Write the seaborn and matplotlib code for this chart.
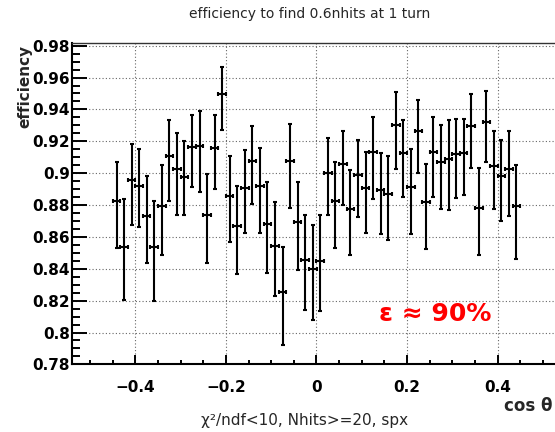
import numpy as np
import pandas as pd
import matplotlib
matplotlib.use("Agg")
import matplotlib.pyplot as plt
from matplotlib.ticker import FixedLocator, MultipleLocator
import seaborn as sns

# bin centres in cos(theta) (bin width 1/60)
cos_theta = [
    -0.4417, -0.4250, -0.4083, -0.3917, -0.3750, -0.3583, -0.3417, -0.3250, -0.3083,
    -0.2917, -0.2750, -0.2583, -0.2417, -0.2250, -0.2083, -0.1917, -0.1750, -0.1583,
    -0.1417, -0.1250, -0.1083, -0.0917, -0.0750, -0.0583, -0.0417, -0.0250, -0.0083,
    0.0083, 0.0250, 0.0417, 0.0583, 0.0750, 0.0917, 0.1083, 0.1250, 0.1417,
    0.1583, 0.1750, 0.1917, 0.2083, 0.2250, 0.2417, 0.2583, 0.2750, 0.2917,
    0.3083, 0.3250, 0.3417, 0.3583, 0.3750, 0.3917, 0.4083, 0.4250, 0.4417,
]
bin_half_width = 1.0 / 120

efficiency = [
    0.8827, 0.8536, 0.8955, 0.8919, 0.8734, 0.8538, 0.8795, 0.9107, 0.9027,
    0.8974, 0.9162, 0.9172, 0.8738, 0.9155, 0.9499, 0.8858, 0.8669, 0.8905,
    0.9075, 0.8919, 0.8683, 0.8542, 0.8257, 0.9075, 0.8694, 0.8458, 0.8397,
    0.8451, 0.9002, 0.8827, 0.9056, 0.8776, 0.8991, 0.8905, 0.9132, 0.8894,
    0.8869, 0.9301, 0.9124, 0.8915, 0.9263, 0.8816, 0.9130, 0.9067, 0.9088,
    0.9118, 0.9124, 0.9295, 0.8782, 0.9322, 0.9042, 0.8981, 0.9027, 0.8791,
]
err_up = [
    0.0245, 0.0304, 0.0226, 0.0232, 0.0249, 0.0289, 0.0259, 0.0226, 0.0226,
    0.0228, 0.0204, 0.0221, 0.0257, 0.0211, 0.0167, 0.0249, 0.0251, 0.0238,
    0.0221, 0.0238, 0.0259, 0.0274, 0.0282, 0.0232, 0.0253, 0.0282, 0.0278,
    0.0285, 0.0217, 0.0242, 0.0211, 0.0247, 0.0217, 0.0230, 0.0223, 0.0230,
    0.0238, 0.0209, 0.0209, 0.0236, 0.0198, 0.0242, 0.0221, 0.0234, 0.0247,
    0.0223, 0.0217, 0.0200, 0.0249, 0.0192, 0.0223, 0.0228, 0.0236, 0.0263,
]
err_low = [
    0.0299, 0.0329, 0.0278, 0.0259, 0.0295, 0.0341, 0.0306, 0.0282, 0.0289,
    0.0236, 0.0251, 0.0287, 0.0301, 0.0253, 0.0228, 0.0293, 0.0301, 0.0282,
    0.0268, 0.0293, 0.0308, 0.0314, 0.0335, 0.0293, 0.0301, 0.0318, 0.0316,
    0.0318, 0.0263, 0.0299, 0.0255, 0.0291, 0.0266, 0.0280, 0.0293, 0.0278,
    0.0287, 0.0272, 0.0272, 0.0295, 0.0263, 0.0289, 0.0278, 0.0291, 0.0318,
    0.0274, 0.0261, 0.0261, 0.0297, 0.0255, 0.0266, 0.0278, 0.0293, 0.0331,
]

x_ticks = [-0.4, -0.2, 0.0, 0.2, 0.4]
x_tick_labels = ["\u22120.4", "\u22120.2", "0", "0.2", "0.4"]
y_ticks = [0.78, 0.80, 0.82, 0.84, 0.86, 0.88, 0.90, 0.92, 0.94, 0.96, 0.98]
y_tick_labels = ["0.78", "0.8", "0.82", "0.84", "0.86", "0.88", "0.9",
                 "0.92", "0.94", "0.96", "0.98"]

df = pd.DataFrame({"cos": cos_theta, "eff": efficiency,
                   "lo": err_low, "hi": err_up})

sns.set_style("white")
plt.rcParams["font.family"] = ["DejaVu Sans"]

W, H = 555, 432
fig = plt.figure(figsize=(W / 100, H / 100), dpi=100)
ax = fig.add_axes([72 / W, (H - 364.4) / H, 489 / W, 321.1 / H])

ax.errorbar(df["cos"], df["eff"], xerr=bin_half_width,
            yerr=[df["lo"], df["hi"]], fmt="none", ecolor="black",
            elinewidth=1.5, capsize=1.5, capthick=1.5, zorder=3)
sns.scatterplot(data=df, x="cos", y="eff", ax=ax, color="black", s=2,
                marker="s", linewidth=0, zorder=4, legend=False)

ax.set_xlim(-0.54, 0.54)
ax.set_ylim(0.78, 0.9815)
ax.xaxis.set_major_locator(FixedLocator(x_ticks))
ax.xaxis.set_minor_locator(MultipleLocator(0.05))
ax.yaxis.set_major_locator(FixedLocator(y_ticks))
ax.yaxis.set_minor_locator(MultipleLocator(0.005))
ax.set_xticklabels(x_tick_labels)
ax.set_yticklabels(y_tick_labels)
ax.set_xlabel("")
ax.set_ylabel("")

ax.grid(True, which="major", color="#666666", linestyle=(0, (1, 2)),
        linewidth=0.8)
ax.set_axisbelow(True)

ax.tick_params(axis="y", which="major", direction="in", length=10.5,
               width=1.4, color="black", left=True, right=False, pad=1.5,
               labelsize=11, labelcolor="black")
ax.tick_params(axis="y", which="minor", direction="in", length=5.5,
               width=1.4, color="black", left=True, right=False)
ax.tick_params(axis="x", which="major", direction="in", length=6.5,
               width=1.4, color="black", bottom=True, top=False, pad=11,
               labelsize=11, labelcolor="black")
ax.tick_params(axis="x", which="minor", direction="in", length=3.2,
               width=1.4, color="black", bottom=True, top=False)
for lab in ax.get_xticklabels() + ax.get_yticklabels():
    lab.set_fontweight("bold")

for side in ("left", "bottom"):
    ax.spines[side].set_linewidth(1.5)
    ax.spines[side].set_color("black")
ax.spines["top"].set_linewidth(1.0)
ax.spines["top"].set_color("#333333")
ax.spines["right"].set_visible(False)

fig.text(310 / W, 1 - 14 / H, "efficiency to find 0.6nhits at 1 turn",
         ha="center", va="center", fontsize=10)
fig.text(24.5 / W, 1 - 45 / H, "efficiency", rotation=90, ha="center",
         va="top", fontsize=11, fontweight="bold")
fig.text(553 / W, 1 - 406 / H, "cos \u03b8", ha="right", va="center",
         fontsize=12, fontweight="bold")
fig.text(305 / W, 1 - 420 / H, "\u03c7\u00b2/ndf<10, Nhits>=20, spx",
         ha="center", va="center", fontsize=11)
ax.text(0.262, 0.8115, "\u03b5 \u2248 90%", ha="center", va="center",
        color="red", fontsize=18, fontweight="bold")

fig.savefig("out.png", dpi=100)
